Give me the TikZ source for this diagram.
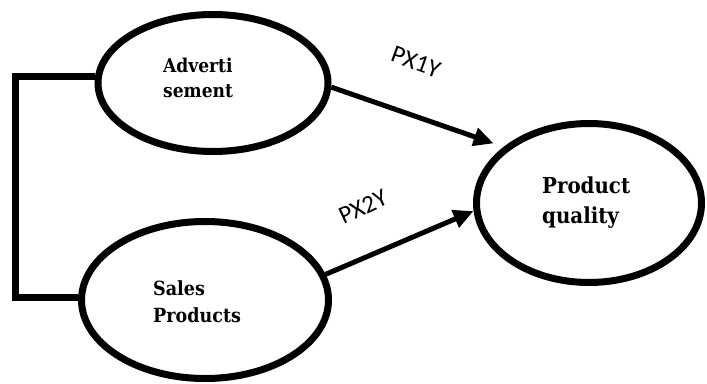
\documentclass[tikz,border=0pt]{standalone}
\usepackage{fontspec}
\setmainfont{DejaVu Serif Condensed}
\newfontfamily\lblfont{Carlito}
\usetikzlibrary{shapes.geometric,arrows.meta}
\begin{document}
\begin{tikzpicture}[x=1pt,y=-1pt,
  oval/.style={draw,ellipse,line width=7pt,inner sep=0pt},
  txt/.style={align=left,inner sep=0pt,anchor=base west},
  arr/.style={line width=5pt,-{Triangle[length=20pt,width=18pt]}},
  bracket/.style={line width=7pt,line join=miter},
  lbl/.style={font=\lblfont\fontsize{25}{27}\selectfont,inner sep=0pt}]
\useasboundingbox (0,0) rectangle (707,383);
\node[oval,minimum width=230pt,minimum height=137pt] (adv) at (213,83) {};
\node[oval,minimum width=247pt,minimum height=157pt] (sales) at (205,300) {};
\node[oval,minimum width=225pt,minimum height=159pt] (pq) at (589,203) {};
\node[txt,font=\bfseries\fontsize{19}{25}\selectfont] (advt) at (163,97) {Adverti\\sement};
\node[txt,font=\bfseries\fontsize{19.5}{27}\selectfont] (salest) at (153,322) {Sales\\Products};
\node[txt,font=\bfseries\fontsize{22}{30}\selectfont] (pqt) at (542,223) {Product\\quality};
\coordinate (bx) at (15,190);
\draw[bracket] (adv.177) -| (bx) |- (sales.179);
\draw[arr] (adv.-2) -- ([shift={(-8pt,5pt)}]pq.148);
\draw[arr] (sales.12) -- (pq.184);
\node[lbl,rotate=-20] (l1) at (416,62) {PX1Y};
\node[lbl,rotate=25] (l2) at (363,207) {PX2Y};
\end{tikzpicture}
\end{document}
